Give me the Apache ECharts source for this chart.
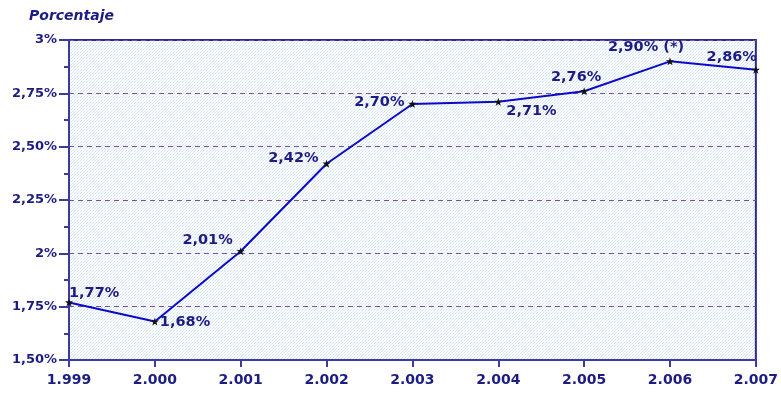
<!DOCTYPE html>
<html>
<head>
<meta charset="utf-8">
<script src="https://cdn.jsdelivr.net/npm/echarts@6/dist/echarts.min.js"></script>
<style>html,body{margin:0;padding:0;background:#fff}#c{width:781px;height:394px}</style>
</head>
<body>
<div id="c"></div>
<script>
const years = ['1.999', '2.000', '2.001', '2.002', '2.003', '2.004', '2.005', '2.006', '2.007'];
const rates = [1.77, 1.68, 2.01, 2.42, 2.70, 2.71, 2.76, 2.90, 2.86];
const rateLabels = ['1,77%', '1,68%', '2,01%', '2,42%', '2,70%', '2,71%', '2,76%', '2,90% (*)', '2,86%'];
// label placement for each point: [position, dx, dy]
const labelPlace = [
  ['right', -8, -9], ['right', -3, 1], ['left', 0, -11], ['left', 0, -5],
  ['left', 0, -2], ['right', 0, 9], ['top', -8, 2], ['top', -24, 1], ['left', 9, -13]
];

const navy = '#1c1c84';
const font = 'DejaVu Sans';

// fine dotted fill for the plotting area
const pat = document.createElement('canvas');
pat.width = 3; pat.height = 3;
const pc = pat.getContext('2d');
pc.fillStyle = '#ffffff'; pc.fillRect(0, 0, 3, 3);
pc.fillStyle = '#cfe2f7'; pc.fillRect(0, 0, 1, 1); pc.fillRect(2, 1, 1, 1);
pc.fillStyle = '#e2eefa'; pc.fillRect(1, 2, 1, 1);

const chart = echarts.init(document.getElementById('c'));
chart.setOption({
  animation: false,
  backgroundColor: '#ffffff',
  title: {
    text: 'Porcentaje', left: 24, top: 4,
    textStyle: { fontFamily: font, fontStyle: 'italic', fontWeight: 'bold', fontSize: 14, color: navy }
  },
  grid: {
    left: 69, right: 24, top: 40, bottom: 34, show: true,
    backgroundColor: { image: pat, repeat: 'repeat' },
    borderColor: '#2a2a8a', borderWidth: 2
  },
  xAxis: {
    type: 'category', data: years, boundaryGap: false,
    axisLine: { lineStyle: { color: '#3a3aa0', width: 2 } },
    axisTick: { show: true, length: 7, lineStyle: { color: '#3a3aa0', width: 2 } },
    axisLabel: { margin: 13, fontFamily: font, fontWeight: 'bold', fontSize: 14, color: navy },
    splitLine: { show: false }
  },
  yAxis: {
    type: 'value', min: 1.5, max: 3, interval: 0.25,
    axisLine: { show: true, lineStyle: { color: '#3a3aa0', width: 2 } },
    axisTick: { show: true, length: 10, lineStyle: { color: '#3a3aa0', width: 2 } },
    minorTick: { show: true, splitNumber: 2, length: 5, lineStyle: { color: '#3a3aa0', width: 2 } },
    axisLabel: {
      margin: 12, fontFamily: font, fontWeight: 'bold', fontSize: 13, color: navy,
      formatter: v => (Math.round(v * 100) % 100 === 0 ? String(Math.round(v)) : v.toFixed(2).replace('.', ',')) + '%'
    },
    splitLine: { show: true, lineStyle: { color: '#7a4fa8', type: [5, 4], width: 1 } }
  },
  series: [{
    type: 'line',
    data: rates.map((v, i) => ({
      value: v,
      label: {
        show: true, formatter: rateLabels[i], position: labelPlace[i][0],
        offset: [labelPlace[i][1], labelPlace[i][2]]
      }
    })),
    symbol: 'path://M0,-5L1.2,-1.6L5,-1.6L2,0.8L3.2,4.5L0,2.3L-3.2,4.5L-2,0.8L-5,-1.6L-1.2,-1.6Z',
    symbolSize: 8,
    itemStyle: { color: '#111111' },
    lineStyle: { color: '#0a0ac8', width: 2 },
    label: { fontFamily: font, fontWeight: 'bold', fontSize: 14.5, color: navy, distance: 4 }
  }]
});
</script>
</body>
</html>
